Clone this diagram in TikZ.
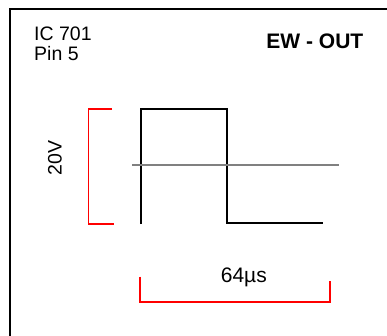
\documentclass[tikz,border=0pt]{standalone}
\usepackage{fontspec}
\setmainfont{Liberation Sans}

\begin{document}
\begin{tikzpicture}[x=1pt, y=-1pt, font=\fontsize{19.5}{20}\selectfont,
    txt/.style={inner sep=0pt},
    mass/.style={red, line width=1.8pt},
    signal/.style={black, line width=1.8pt}]
    \useasboundingbox (0,0) rectangle (387,336);
    \clip (0,0) rectangle (387,336);

    % Rahmen
    \draw [line width=1.8pt] (10,9) rectangle (400,350);

    % Beschriftung
    \node[txt, anchor=base west] (ic) at (34,40.7) {IC 701};
    \node[txt, anchor=base west] (pin) at (34,60.7) {Pin 5};
    \node[txt, anchor=base east, font=\fontsize{21}{22}\selectfont\bfseries] (ew) at (363.5,49) {EW - OUT};

    % Amplitude
    \draw [mass] (112,109) -- (88.5,109) -- (88.5,224) -- (114,224);
    \node[txt, rotate=90] (amp) at (55,158) {20V};

    % Signal
    \draw [signal] (141.3,224) -- (141.3,109) -- (226.7,109) -- (226.7,222.7) -- (323.3,222.7);
    \draw [gray, line width=1.8pt] (132.3,164.7) -- (338.7,164.7);

    % Periode
    \draw [mass] (140.3,276.7) -- (140.3,302.3) -- (329.7,302.3) -- (329.7,280.7);
    \node[txt, anchor=base, font=\fontsize{21}{22}\selectfont] (per) at (243.8,282) {64µs};
\end{tikzpicture}
\end{document}
